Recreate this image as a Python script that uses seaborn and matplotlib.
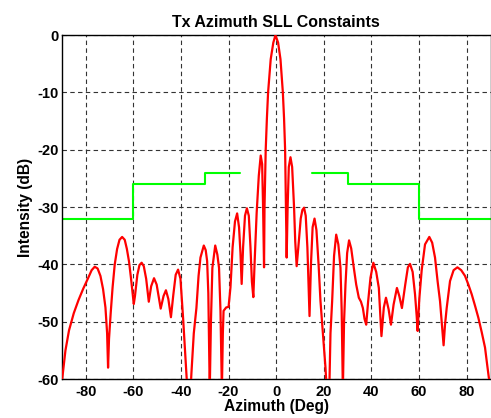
import numpy as np
import pandas as pd
import matplotlib
matplotlib.use('Agg')
import matplotlib.pyplot as plt
import seaborn as sns

# Azimuth pattern (deg, dB)
azimuth = [
    -90, -88.5, -87, -85, -83, -81, -79, -77.5, -76.2, -75, -73.8, -72.7, -71.7, -71.0, -70.6,
    -70.2, -69.5, -68.7, -67.8, -66.8, -65.8, -64.7, -63.6, -62.7, -61.8, -61, -60.3, -59.8,
    -59.3, -58.3, -57.4, -56.5, -55.6, -54.6, -53.5, -52.5, -51.3, -50.2, -48.5, -47.3, -46.3,
    -45.3, -44.2, -43.2, -42.2, -41.2, -40.2, -39.1, -38.0, -37.0, -36.2, -35.6, -34.6, -33.5,
    -32.6, -31.8, -30.4, -29.6, -29.0, -28.5, -27.9, -27.4, -26.8, -25.6, -24.7, -24.0, -23.4,
    -22.8, -22.4, -22.1, -21, -20, -19.2, -18.3, -17.3, -16.4, -15.6, -15.0, -14.5, -13.9,
    -13.1, -12.3, -11.5, -10.8, -10.2, -9.6, -9.0, -8.2, -7.3, -6.5, -5.9, -5.5, -5.1, -4.9,
    -4.4, -3.9, -3.4, -2.3, -1.2, -0.3, 0.8, 1.8, 2.8, 3.3, 3.75, 4.1, 4.4, 4.8, 5.3, 6.0,
    6.7, 7.5, 8.0, 8.6, 9.3, 10.3, 11.0, 11.7, 12.4, 13.1, 14.0, 14.6, 15.3, 16.1, 16.9, 17.8,
    18.6, 19.8, 20.7, 21.5, 22.2, 22.8, 23.5, 24.3, 25.2, 26.1, 27.0, 27.5, 28.0, 28.5, 29.1,
    29.8, 30.6, 31.5, 32.6, 33.6, 34.7, 35.6, 36.4, 37.1, 37.8, 38.6, 39.6, 40.8, 42, 43.1,
    43.7, 44.2, 45.2, 46.1, 47.2, 48.2, 49.3, 50.7, 51.7, 52.8, 54.2, 55.3, 56.2, 57.3, 58.3,
    59.0, 59.4, 60.1, 61.1, 62.5, 64.3, 65.5, 66.7, 67.8, 68.8, 69.6, 70.3, 70.9, 71.6, 73.0,
    74.5, 76.1, 77.7, 79.3, 80.7, 82.1, 83.5, 84.9, 86.3, 87.7, 88.6, 89.4, 90,
]
intensity = [
    -60.5, -55, -51.5, -48.5, -46.2, -44.2, -42.4, -41, -40.4, -40.7, -42, -44.3, -47.5, -52, -58,
    -53, -48.5, -44, -40, -37.3, -35.7, -35.2, -35.7, -37.3, -39.5, -42.3, -45, -46.9,
    -45.5, -41.8, -40.1, -39.7, -40.3, -42.5, -46.5, -43.8, -42.4, -43.5, -47.7, -45.5, -44.5,
    -46, -49.2, -45.3, -41.8, -40.9, -42.5, -49.3, -56.9, -64, -64, -59, -52, -47.6,
    -42, -38.8, -36.7, -37.5, -39.4, -45, -62, -50, -40.6, -36.7, -38.3, -40.6, -48,
    -62, -52, -48.1, -47.5, -47.4, -44, -37, -32.5, -31.1, -33.5, -38, -43.4, -37,
    -31.5, -30.2, -31.5, -37, -43, -45.7, -39, -31, -24.5, -21.0, -22.5, -30, -40.5, -30,
    -20, -14.5, -10, -4.2, -1.3, 0, -1.3, -4.2, -10, -14.5, -20, -30, -38.8, -30, -23, -21.3,
    -23, -30, -36, -40.3, -37, -32, -30.5, -30.1, -31.5, -37, -49.0, -40, -33.5, -32.0, -34, -40,
    -46.4, -53, -58, -64, -64, -52, -46.4, -38.5, -34.8, -36.5, -40.6, -48, -62, -50, -43.5,
    -38, -35.8, -37.2, -40.6, -43.5, -45.8, -46.5, -47.6, -49.5, -50.5, -46.5, -42.3, -39.7, -41.3, -44.1,
    -48.5, -52.5, -47.5, -45.8, -47.8, -50.5, -47, -44.1, -45.5, -47.6, -43.5, -40.5, -39.9, -41.3, -45.2,
    -49, -51.6, -46, -41, -36.5, -35.2, -36.2, -38.8, -43, -46.4, -50.5, -54.1, -50.5, -47.6, -42.9,
    -41, -40.5, -41, -42, -43.5, -45.2, -47.2, -49.3, -51.8, -54.5, -57.5, -60, -62,
]

# SLL constraint mask
mask_left_x = [-90, -60, -60, -30, -30, -15]
mask_left_y = [-32, -32, -26, -26, -24, -24]
mask_right_x = [15, 30, 30, 60, 60, 90]
mask_right_y = [-24, -24, -26, -26, -32, -32]

xticks = [-80, -60, -40, -20, 0, 20, 40, 60, 80]
yticks = [-60, -50, -40, -30, -20, -10, 0]

sns.set_theme(style='white')
plt.rcParams['font.family'] = ['Liberation Sans', 'DejaVu Sans']
plt.rcParams['font.weight'] = 'bold'
plt.rcParams['axes.unicode_minus'] = False

pattern = pd.DataFrame({'az': azimuth, 'db': intensity})
left = pd.DataFrame({'az': mask_left_x, 'db': mask_left_y})
right = pd.DataFrame({'az': mask_right_x, 'db': mask_right_y})

fig = plt.figure(figsize=(4.91, 4.18), dpi=100)
ax = fig.add_axes([0.126, 0.093, 0.873, 0.823])

sns.lineplot(data=pattern, x='az', y='db', ax=ax, color='#ff0000', linewidth=1.6,
             estimator=None, sort=False, zorder=3)
for m in (left, right):
    sns.lineplot(data=m, x='az', y='db', ax=ax, color='#00ff00', linewidth=1.5,
                 estimator=None, sort=False, zorder=2)

ax.set_xlim(-90, 90)
ax.set_ylim(-60, 0)
ax.set_xticks(xticks)
ax.set_yticks(yticks)
ax.grid(True, color='#333333', linestyle=(0, (4, 3)), linewidth=0.8)
for s in ax.spines.values():
    s.set_visible(True)
    s.set_color('black')
    s.set_linewidth(1.0)
ax.tick_params(direction='in', length=3, color='black', labelsize=10.5,
               labelcolor='black')
ax.tick_params(axis='y', pad=2)
ax.tick_params(axis='x', pad=4)
for lab in ax.get_xticklabels() + ax.get_yticklabels():
    lab.set_fontweight('bold')

ax.set_title('Tx Azimuth SLL Constaints', fontsize=11.5, fontweight='bold', pad=6, color='black')
ax.set_xlabel('Azimuth (Deg)', fontsize=11.2, fontweight='bold', labelpad=0, color='black')
ax.set_ylabel('Intensity (dB)', fontsize=11.2, fontweight='bold', labelpad=3, color='black')

fig.savefig('out.png', dpi=100, facecolor='white')
